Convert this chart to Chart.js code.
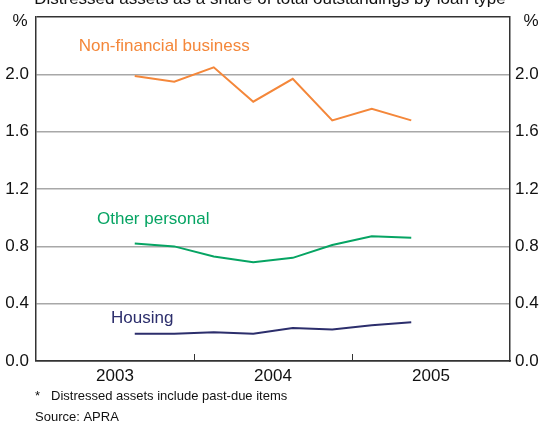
<!DOCTYPE html>
<html>
<head>
<meta charset="utf-8">
<script src="https://cdn.jsdelivr.net/npm/chart.js@4/dist/chart.umd.min.js"></script>
<style>
  html, body { margin: 0; padding: 0; background: #fff; }
  #wrap { width: 543px; height: 422px; position: relative; }
</style>
</head>
<body>
<div id="wrap"><canvas id="c" width="543" height="422"></canvas></div>
<script>
// Quarterly observations, plotted at fractional-year positions
const quarters = [2003.625, 2003.875, 2004.125, 2004.375, 2004.625, 2004.875, 2005.125, 2005.375];
const nonFinancialBusiness = [1.99, 1.95, 2.05, 1.81, 1.97, 1.68, 1.76, 1.68];
const otherPersonal = [0.82, 0.80, 0.73, 0.69, 0.72, 0.81, 0.87, 0.86];
const housing = [0.19, 0.19, 0.20, 0.19, 0.23, 0.22, 0.25, 0.27];
const yearLabels = [2003, 2004, 2005];
const yTicks = [0, 0.4, 0.8, 1.2, 1.6, 2.0, 2.4];

const ORANGE = '#F4873A';
const GREEN = '#06A463';
const NAVY = '#2C2E6C';
const FRAME = '#333333';
const GRID = '#a8a8a8';
const FONT = '"Liberation Sans", Arial, sans-serif';
const SIZE = 17;

const toPoints = vals => vals.map((v, i) => ({ x: quarters[i], y: v }));

// Series names, titles, year tick marks and notes
const annotations = {
  id: 'annotations',
  afterDraw(chart) {
    const { ctx, chartArea: a, scales } = chart;
    const xs = scales.x, ys = scales.y;
    ctx.save();

    // year boundary tick marks, rising from the bottom axis
    ctx.strokeStyle = FRAME;
    ctx.lineWidth = 1;
    for (let k = 1; k < yearLabels.length; k++) {
      const px = Math.round(xs.getPixelForValue(yearLabels[k])) + 0.5;
      ctx.beginPath();
      ctx.moveTo(px, a.bottom);
      ctx.lineTo(px, a.bottom - 7);
      ctx.stroke();
    }

    ctx.textBaseline = 'middle';
    ctx.font = SIZE + 'px ' + FONT;
    ctx.textAlign = 'left';
    ctx.fillStyle = ORANGE;
    ctx.fillText('Non-financial business', xs.getPixelForValue(2003.27), ys.getPixelForValue(2.2));
    ctx.fillStyle = GREEN;
    ctx.fillText('Other personal', xs.getPixelForValue(2003.386), ys.getPixelForValue(0.99));
    ctx.fillStyle = NAVY;
    ctx.fillText('Housing', xs.getPixelForValue(2003.475), ys.getPixelForValue(0.30));

    // unit markers
    ctx.fillStyle = '#111';
    ctx.textAlign = 'center';
    ctx.fillText('%', 20, 21);
    ctx.fillText('%', 531, 21);

    // chart title
    ctx.textBaseline = 'alphabetic';
    ctx.fillText('Distressed assets as a share of total outstandings by loan type', 270, 4);

    // notes
    ctx.textAlign = 'left';
    ctx.textBaseline = 'middle';
    ctx.font = '13px ' + FONT;
    ctx.fillText('*', 35, 396);
    ctx.fillText('Distressed assets include past-due items', 51, 396);
    ctx.fillText('Source: APRA', 35, 417);
    ctx.restore();
  }
};

const gridColor = c => (c.tick && (c.tick.value === 0 || Math.abs(c.tick.value - 2.4) < 1e-9)) ? FRAME : GRID;

new Chart(document.getElementById('c'), {
  type: 'line',
  data: {
    datasets: [
      { label: 'Non-financial business', data: toPoints(nonFinancialBusiness), borderColor: ORANGE, borderWidth: 2 },
      { label: 'Other personal', data: toPoints(otherPersonal), borderColor: GREEN, borderWidth: 2 },
      { label: 'Housing', data: toPoints(housing), borderColor: NAVY, borderWidth: 2 }
    ]
  },
  options: {
    responsive: false,
    animation: false,
    layout: { padding: { top: 13, left: 0, right: 0, bottom: 0 } },
    elements: { point: { radius: 0 }, line: { tension: 0 } },
    plugins: { legend: { display: false }, tooltip: { enabled: false } },
    scales: {
      x: {
        type: 'linear',
        min: 2003, max: 2006,
        afterBuildTicks: s => { s.ticks = yearLabels.map(y => ({ value: y + 0.5 })); },
        afterFit: s => { s.height = 61; },
        grid: { display: false, drawTicks: false },
        border: { display: true, color: FRAME, width: 1.5 },
        ticks: {
          callback: v => String(Math.floor(v)),
          color: '#111',
          font: { family: FONT, size: SIZE },
          padding: 5,
          maxRotation: 0,
          autoSkip: false
        }
      },
      y: {
        position: 'left',
        min: 0, max: 2.4,
        afterBuildTicks: s => { s.ticks = yTicks.map(v => ({ value: v })); },
        afterFit: s => { s.width = 36; },
        grid: { color: gridColor, lineWidth: 1.5, drawTicks: false },
        border: { display: true, color: FRAME, width: 1.5 },
        ticks: {
          callback: v => (Math.abs(v - 2.4) < 1e-9 ? '' : v.toFixed(1)),
          color: '#111',
          font: { family: FONT, size: SIZE },
          padding: 7
        }
      },
      y2: {
        position: 'right',
        min: 0, max: 2.4,
        afterBuildTicks: s => { s.ticks = yTicks.map(v => ({ value: v })); },
        afterFit: s => { s.width = 33; },
        grid: { display: false, drawTicks: false },
        border: { display: true, color: FRAME, width: 1.5 },
        ticks: {
          callback: v => (Math.abs(v - 2.4) < 1e-9 ? '' : v.toFixed(1)),
          color: '#111',
          font: { family: FONT, size: SIZE },
          padding: 5
        }
      }
    }
  },
  plugins: [annotations]
});
</script>
</body>
</html>
